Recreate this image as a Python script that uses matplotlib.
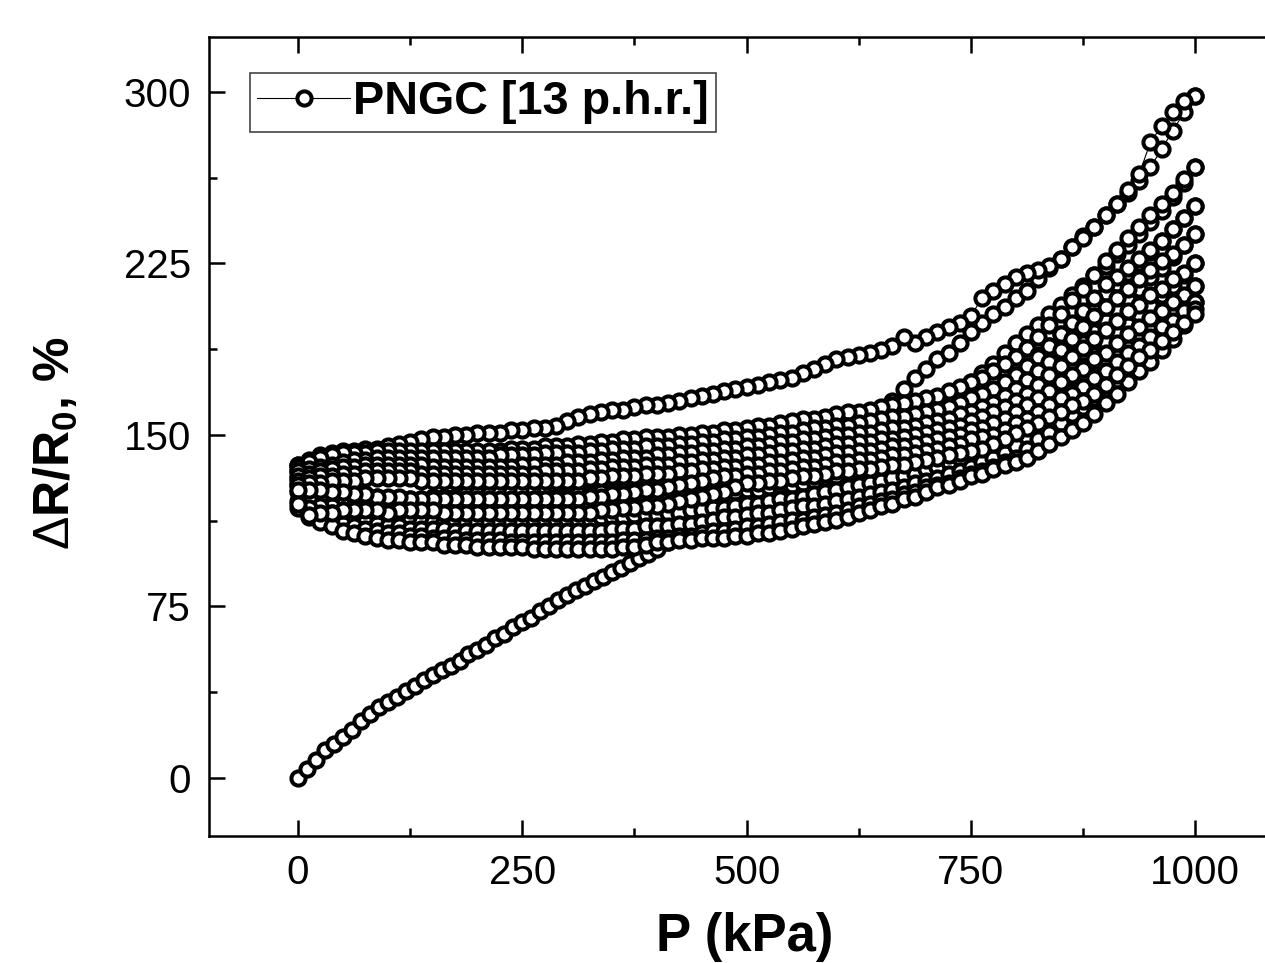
import matplotlib
matplotlib.use('Agg')
import matplotlib.pyplot as plt

pressure = [0, 12.5, 25, 37.5, 50, 62.5, 75, 87.5,
            100, 112.5, 125, 137.5, 150, 162.5, 175, 187.5,
            200, 212.5, 225, 237.5, 250, 262.5, 275, 287.5,
            300, 312.5, 325, 337.5, 350, 362.5, 375, 387.5,
            400, 412.5, 425, 437.5, 450, 462.5, 475, 487.5,
            500, 512.5, 525, 537.5, 550, 562.5, 575, 587.5,
            600, 612.5, 625, 637.5, 650, 662.5, 675, 687.5,
            700, 712.5, 725, 737.5, 750, 762.5, 775, 787.5,
            800, 812.5, 825, 837.5, 850, 862.5, 875, 887.5,
            900, 912.5, 925, 937.5, 950, 962.5, 975, 987.5, 1000]

# first loading has its own, closer points up to 400 kPa
pressure_first = [0, 10, 20, 30, 40, 50, 60, 70, 80, 90,
                  100, 110, 120, 130, 140, 150, 160, 170, 180, 190,
                  200, 210, 220, 230, 240, 250, 260, 270, 280, 290,
                  300, 310, 320, 330, 340, 350, 360, 370, 380, 390,
                  400, 412.5, 425, 437.5, 450, 462.5, 475, 487.5,
                  500, 512.5, 525, 537.5, 550, 562.5, 575, 587.5,
                  600, 612.5, 625, 637.5, 650, 662.5, 675, 687.5,
                  700, 712.5, 725, 737.5, 750, 762.5, 775, 787.5,
                  800, 812.5, 825, 837.5, 850, 862.5, 875, 887.5,
                  900, 912.5, 925, 937.5, 950, 962.5, 975, 987.5, 1000]
load_1 = [0, 4, 8, 12, 15, 18, 21, 25, 28, 31,
          33, 35.5, 38, 40, 43, 45, 47, 49, 51, 54,
          56, 58, 61, 63, 66, 68, 70, 73, 75, 78,
          80, 82, 84, 86, 88, 90, 92, 94, 96, 98,
          100, 103, 106, 108, 110, 112, 114, 116,
          118, 120, 123, 125, 128, 131, 134, 137,
          140, 144, 149, 155, 160, 165, 170, 175,
          179, 183, 186, 190, 195, 199, 203, 206,
          210, 213, 218, 223, 227, 232, 237, 241,
          246, 251, 256, 261, 267, 275, 283, 291, 298]

# later loading branches, low pressure to high
load_2 = [137, 134, 131, 128, 126, 125, 124, 123,
          122, 122, 122, 122, 123, 123, 123, 124,
          124, 124, 125, 125, 126, 126, 127, 127,
          128, 128, 129, 129, 130, 131, 132, 132,
          133, 133, 134, 134, 135, 136, 137, 137,
          138, 139, 140, 140, 141, 142, 143, 145,
          146, 147, 149, 150, 152, 154, 156, 158,
          160, 163, 166, 170, 173, 177, 181, 186,
          190, 194, 198, 203, 207, 211, 215, 220,
          224, 229, 233, 238, 243, 248, 254, 260, 267]
load_3 = [134, 131, 128, 125, 123, 122, 121, 120,
          119, 119, 119, 119, 119, 119, 120, 120,
          120, 120, 121, 121, 121, 122, 122, 123,
          123, 124, 124, 125, 125, 126, 126, 127,
          127, 128, 128, 129, 130, 130, 131, 131,
          132, 133, 134, 135, 135, 136, 137, 138,
          139, 140, 141, 142, 144, 145, 147, 148,
          150, 152, 155, 158, 161, 165, 168, 172,
          176, 180, 185, 189, 194, 198, 203, 207,
          212, 216, 221, 225, 230, 235, 240, 245, 250]
load_4 = [131, 128, 125, 122, 120, 119, 118, 117,
          116, 116, 116, 116, 116, 116, 116, 116,
          116, 116, 116, 117, 117, 117, 117, 118,
          118, 118, 119, 119, 120, 120, 120, 121,
          121, 122, 122, 123, 123, 124, 124, 125,
          126, 126, 127, 128, 128, 129, 130, 131,
          132, 133, 134, 135, 136, 137, 138, 139,
          141, 143, 145, 147, 150, 152, 155, 159,
          162, 166, 171, 176, 181, 185, 190, 195,
          200, 204, 209, 214, 219, 223, 228, 233, 238]
load_5 = [128, 125, 122, 119, 117, 116, 115, 114,
          113, 113, 113, 112, 112, 112, 112, 112,
          112, 112, 112, 112, 112, 113, 113, 113,
          113, 113, 113, 114, 114, 114, 115, 115,
          115, 116, 116, 117, 117, 118, 118, 119,
          120, 120, 121, 122, 122, 123, 124, 125,
          126, 127, 128, 129, 130, 131, 132, 133,
          135, 136, 138, 140, 142, 144, 146, 149,
          152, 156, 161, 166, 171, 175, 180, 185,
          190, 194, 198, 203, 207, 211, 215, 220, 225]
load_6 = [125, 122, 119, 116, 114, 113, 112, 111,
          110, 110, 109, 109, 109, 109, 108, 108,
          108, 108, 108, 108, 108, 108, 108, 108,
          108, 108, 108, 108, 109, 109, 109, 110,
          110, 110, 111, 111, 112, 113, 114, 114,
          115, 116, 116, 117, 118, 119, 119, 120,
          121, 122, 123, 124, 125, 126, 127, 129,
          130, 131, 133, 134, 136, 138, 140, 142,
          145, 149, 153, 158, 162, 167, 171, 176,
          180, 184, 188, 192, 196, 200, 204, 209, 215]
load_7 = [121, 118, 115, 113, 111, 110, 109, 108,
          107, 107, 106, 106, 105, 105, 105, 104,
          104, 104, 104, 103, 103, 103, 103, 103,
          103, 103, 103, 103, 103, 104, 104, 104,
          105, 105, 106, 106, 107, 108, 108, 109,
          110, 110, 111, 112, 113, 113, 114, 115,
          116, 117, 119, 120, 121, 122, 124, 125,
          127, 128, 129, 131, 133, 134, 136, 138,
          140, 144, 148, 151, 155, 159, 162, 166,
          170, 174, 178, 182, 186, 190, 195, 201, 208]
load_8 = [118, 114, 112, 110, 108, 107, 106, 105,
          104, 104, 103, 103, 103, 102, 102, 102,
          101, 101, 101, 101, 101, 100, 100, 100,
          100, 100, 100, 100, 100, 101, 101, 102,
          103, 103, 104, 104, 105, 105, 105, 106,
          106, 107, 107, 108, 109, 110, 111, 112,
          113, 114, 116, 117, 119, 120, 122, 123,
          125, 127, 128, 130, 132, 133, 135, 137,
          138, 140, 143, 146, 149, 152, 155, 159,
          164, 168, 173, 178, 182, 187, 192, 198, 205]

# unloading branches, also listed low pressure to high
unload_1 = [137, 139, 141, 142, 143, 143, 144, 144,
            145, 146, 147, 148, 149, 149, 150, 150,
            151, 151, 151, 152, 152, 153, 153, 154,
            156, 158, 159, 160, 161, 161, 162, 163,
            163, 164, 165, 166, 167, 168, 169, 170,
            171, 172, 173, 174, 175, 177, 179, 181,
            183, 184, 185, 186, 187, 189, 193, 190,
            193, 195, 197, 199, 202, 210, 213, 216,
            219, 221, 222, 224, 227, 232, 236, 241,
            246, 251, 257, 264, 278, 285, 291, 296, 298]
unload_2 = [136, 138, 140, 141, 142, 142, 142, 143,
            143, 143, 143, 143, 143, 143, 143, 143,
            143, 143, 143, 144, 144, 144, 145, 145,
            145, 146, 146, 147, 147, 148, 148, 149,
            149, 149, 150, 150, 151, 151, 152, 152,
            153, 154, 154, 155, 156, 157, 157, 158,
            159, 160, 160, 161, 162, 163, 164, 165,
            166, 167, 169, 171, 173, 175, 178, 181,
            184, 188, 193, 198, 203, 209, 214, 220,
            226, 231, 236, 241, 246, 251, 256, 262, 267]
unload_3 = [134, 135, 136, 137, 138, 139, 139, 140,
            140, 140, 140, 140, 140, 140, 140, 140,
            140, 140, 141, 141, 141, 141, 142, 142,
            142, 142, 143, 143, 144, 144, 144, 145,
            145, 145, 146, 146, 147, 147, 148, 148,
            149, 149, 150, 151, 151, 152, 153, 153,
            154, 154, 155, 156, 157, 158, 158, 159,
            160, 161, 162, 164, 166, 168, 170, 173,
            176, 180, 184, 189, 194, 199, 204, 210,
            216, 219, 223, 227, 231, 235, 240, 245, 250]
unload_4 = [132, 133, 134, 135, 136, 136, 137, 137,
            137, 137, 137, 137, 136, 136, 136, 136,
            136, 136, 136, 136, 137, 137, 137, 137,
            138, 138, 138, 139, 139, 140, 140, 140,
            141, 141, 142, 142, 143, 143, 144, 144,
            145, 145, 146, 147, 147, 148, 148, 149,
            150, 150, 151, 151, 152, 153, 153, 154,
            155, 156, 157, 159, 160, 162, 164, 167,
            170, 174, 178, 182, 187, 192, 197, 202,
            206, 210, 214, 218, 222, 226, 229, 233, 238]
unload_5 = [130, 131, 132, 132, 133, 133, 134, 134,
            134, 134, 134, 133, 133, 133, 133, 133,
            133, 133, 133, 133, 133, 133, 134, 134,
            134, 134, 135, 135, 136, 136, 136, 137,
            137, 137, 138, 138, 139, 139, 140, 140,
            141, 141, 142, 143, 143, 144, 144, 145,
            146, 146, 147, 147, 148, 148, 149, 150,
            151, 152, 153, 154, 156, 158, 160, 162,
            165, 168, 172, 176, 180, 184, 188, 192,
            196, 200, 204, 207, 211, 214, 218, 221, 225]
unload_6 = [128, 129, 129, 130, 130, 130, 131, 131,
            131, 131, 131, 130, 130, 130, 130, 130,
            130, 130, 130, 130, 130, 130, 130, 130,
            130, 130, 131, 131, 132, 132, 132, 133,
            133, 133, 134, 134, 135, 135, 136, 136,
            137, 137, 138, 138, 139, 140, 140, 141,
            142, 142, 143, 143, 144, 145, 145, 146,
            147, 148, 149, 150, 152, 153, 155, 157,
            160, 163, 166, 169, 173, 176, 179, 183,
            186, 190, 194, 197, 201, 204, 208, 211, 215]
unload_7 = [126, 126, 126, 125, 125, 124, 124, 123,
            123, 123, 122, 122, 122, 122, 122, 122,
            122, 122, 122, 122, 122, 122, 122, 122,
            122, 122, 123, 123, 124, 124, 125, 126,
            126, 127, 128, 129, 130, 131, 132, 132,
            133, 133, 134, 134, 135, 136, 136, 137,
            138, 138, 139, 139, 140, 141, 141, 142,
            143, 144, 145, 146, 148, 149, 150, 152,
            155, 157, 160, 163, 166, 168, 171, 175,
            178, 182, 186, 189, 193, 197, 200, 204, 208]
unload_8 = [120, 115, 116, 116, 117, 117, 117, 117,
            116, 117, 117, 117, 117, 116, 116, 116,
            116, 116, 116, 116, 116, 116, 116, 116,
            116, 116, 116, 117, 117, 118, 118, 119,
            119, 120, 121, 122, 123, 124, 125, 127,
            129, 129, 130, 130, 131, 132, 132, 133,
            134, 134, 135, 135, 136, 137, 137, 138,
            139, 140, 141, 142, 143, 144, 146, 148,
            151, 153, 155, 158, 160, 163, 165, 168,
            172, 176, 180, 184, 187, 191, 195, 199, 203]

loads = [load_2, load_3, load_4, load_5, load_6, load_7, load_8]
unloads = [unload_2, unload_3, unload_4, unload_5, unload_6, unload_7, unload_8]

x_ticks = [0, 250, 500, 750, 1000]
x_minor = [125, 375, 625, 875]
y_ticks = [0, 75, 150, 225, 300]
y_minor = [37.5, 112.5, 187.5, 262.5]

plt.rcParams['font.family'] = ['Liberation Sans', 'DejaVu Sans']
plt.rcParams['mathtext.fontset'] = 'custom'
plt.rcParams['mathtext.rm'] = 'Liberation Sans'
plt.rcParams['mathtext.bf'] = 'Liberation Sans:bold'

W, H = 1265, 963
fig = plt.figure(figsize=(W / 100, H / 100), dpi=100)
# the right edge of the frame runs off the picture, as in the original
ax = fig.add_axes([209 / W, (H - 836) / H, (1285 - 209) / W, (836 - 37) / H])

style = dict(color='black', linewidth=0.8, marker='o', markersize=10.2,
             markeredgewidth=2.9, markerfacecolor='white', markeredgecolor='black')
ax.plot(pressure_first, load_1, label='PNGC [13 p.h.r.]', **style)
ax.plot(pressure[::-1], unload_1[::-1], **style)
for i in range(len(loads)):
    ax.plot(pressure, loads[i], **style)
    ax.plot(pressure[::-1], unloads[i][::-1], **style)

ax.set_xticks(x_ticks)
ax.set_yticks(y_ticks)
ax.set_xticks(x_minor, minor=True)
ax.set_yticks(y_minor, minor=True)
ax.set_xlim(-99.2, 1100)
ax.set_ylim(-25.4, 324)
ax.tick_params(which='major', direction='in', top=True, right=True, length=11.5, width=1.8,
               labelsize=29, pad=13)
ax.tick_params(which='minor', direction='in', top=True, right=True, length=6, width=1.8)
for side in ax.spines.values():
    side.set_linewidth(1.8)

ax.set_xlabel('P (kPa)', fontsize=38, fontweight='bold')
ax.xaxis.label.set_verticalalignment('center')
ax.xaxis.set_label_coords((745 - 209) / (1285 - 209), -0.126, transform=ax.transAxes)
ax.set_ylabel(r'$\mathrm{\Delta}$R/R$_{\mathbf{0}}$, %', fontsize=36, fontweight='bold')
ax.yaxis.set_label_coords(80 / W, (H - 443) / H, transform=fig.transFigure)

leg = ax.legend(loc='upper left', bbox_to_anchor=(250 / W, (H - 73) / H),
                bbox_transform=fig.transFigure,
                prop={'weight': 'bold', 'size': 33.7}, fancybox=False, framealpha=1,
                edgecolor='#444444', borderpad=0.16, borderaxespad=0,
                handlelength=1.98, handletextpad=0.05)
leg.get_frame().set_linewidth(1.2)

fig.savefig('out.png', dpi=100)
